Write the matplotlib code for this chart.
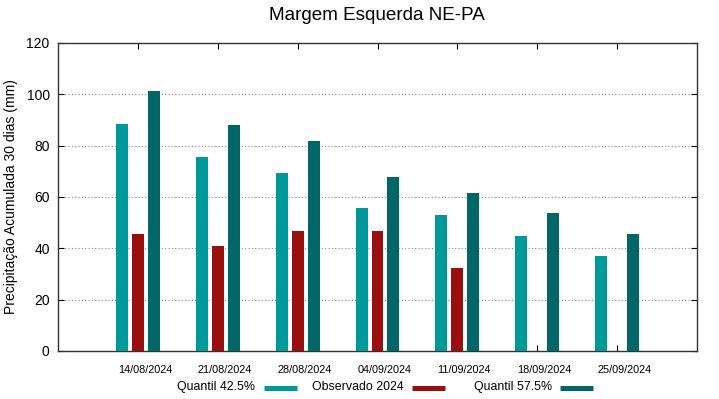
import numpy as np
import matplotlib
matplotlib.use("Agg")
import matplotlib.pyplot as plt
from matplotlib.lines import Line2D
from matplotlib.transforms import ScaledTranslation

plt.rcParams['font.family'] = ['Liberation Sans', 'DejaVu Sans']

dates = ["14/08/2024", "21/08/2024", "28/08/2024", "04/09/2024",
         "11/09/2024", "18/09/2024", "25/09/2024"]
q425 = [88.4, 75.6, 69.2, 55.8, 52.9, 44.9, 36.9]
obs2024 = [45.7, 40.9, 46.6, 46.9, 32.2, np.nan, np.nan]
q575 = [101.3, 87.9, 81.8, 67.8, 61.4, 53.8, 45.7]
labels = ["Quantil 42.5%", "Observado 2024", "Quantil 57.5%"]

c_q425 = "#009999"
c_obs = "#990f0f"
c_q575 = "#006666"

W, H = 719, 399
fig = plt.figure(figsize=(W/100, H/100), dpi=100)
ax = fig.add_axes([58/W, 48/H, 639/W, 308/H])

x = np.arange(len(dates))
w = 0.15
off = 0.2
ax.bar(x - off, q425, w, color=c_q425, zorder=3)
ax.bar(x, obs2024, w, color=c_obs, zorder=3)
ax.bar(x + off, q575, w, color=c_q575, zorder=3)

ax.set_xlim(-1, 7)
ax.set_ylim(0, 120)
ax.set_yticks(np.arange(0, 121, 20))
ax.set_xticks(x)
ax.set_xticklabels(dates, fontsize=7.8)
ax.tick_params(axis='y', labelsize=10, direction='in', length=4, right=True, pad=6)
ax.tick_params(axis='x', direction='in', length=4, top=True, pad=10)
shift = ScaledTranslation(7/100, 0, fig.dpi_scale_trans)
for lab in ax.get_xticklabels():
    lab.set_transform(lab.get_transform() + shift)
ax.grid(axis='y', linestyle=(0, (1, 2)), color='#888888', linewidth=0.8, zorder=0)
for s in ax.spines.values():
    s.set_linewidth(1.0)
    s.set_color('#333333')

ax.set_ylabel("Precipitação Acumulada 30 dias (mm)", fontsize=10, labelpad=6)
fig.text(377/W, 1 - 15/H, "Margem Esquerda NE-PA", fontsize=13.6,
         ha='center', va='center')

# legend (gnuplot-style key: text then sample)
text_right = [255, 404, 552]
samp = [(264, 297), (412, 445), (560, 593)]
ly = 1 - 388/H
for lab, tr, (s0, s1), c in zip(labels, text_right, samp, (c_q425, c_obs, c_q575)):
    fig.text(tr/W, 1 - 387/H, lab, fontsize=8.9, ha='right', va='center')
    fig.add_artist(Line2D([s0/W, s1/W], [ly, ly], transform=fig.transFigure,
                          color=c, linewidth=3.6, solid_capstyle='butt'))

fig.savefig("out.png", dpi=100)
